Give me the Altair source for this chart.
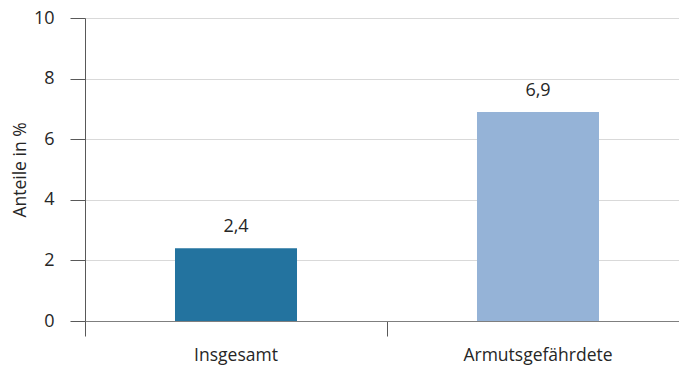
import altair as alt
import pandas as pd

# Anteile in % (Insgesamt vs. Armutsgefährdete)
categories = ["Insgesamt", "Armutsgefährdete"]
values = [2.4, 6.9]
colors = ["#23739f", "#95b3d7"]
y_ticks = [0, 2, 4, 6, 8, 10]

df = pd.DataFrame({
    "Gruppe": categories,
    "Anteil": values,
    "Label": [f"{v:.1f}".replace(".", ",") for v in values],
})

FONT = "Open Sans"
TEXT_COLOR = "#262626"

x_enc = alt.X(
    "Gruppe:N",
    sort=categories,
    title=None,
    scale=alt.Scale(range=[0, 604], paddingInner=0, paddingOuter=0),
    axis=alt.Axis(
        bandPosition=0,
        labelAngle=0,
        tickSize=15,
        tickColor="#595959",
        domainColor="#7f7f7f",
        domainWidth=1,
        labelPadding=10,
        labelFontSize=17.5,
        labelFont=FONT,
        labelColor=TEXT_COLOR,
        grid=False,
    ),
)

y_enc = alt.Y(
    "Anteil:Q",
    title="Anteile in %",
    scale=alt.Scale(domain=[0, 10], nice=False),
    axis=alt.Axis(
        values=y_ticks,
        tickSize=15,
        tickColor="#595959",
        domainColor="#595959",
        labelPadding=16,
        labelFontSize=18,
        labelFont=FONT,
        labelColor=TEXT_COLOR,
        titleFont=FONT,
        titleFontSize=17.5,
        titleFontWeight="normal",
        titleColor=TEXT_COLOR,
        titlePadding=4,
        gridColor="#d9d9d9",
        gridWidth=1,
    ),
)

bars = alt.Chart(df).mark_bar(width=alt.RelativeBandSize(0.404)).encode(
    x=x_enc,
    y=y_enc,
    color=alt.Color("Gruppe:N", scale=alt.Scale(domain=categories, range=colors), legend=None),
)

labels = alt.Chart(df).mark_text(
    baseline="bottom", dy=-12, fontSize=18, font=FONT, color=TEXT_COLOR
).encode(
    x=alt.X("Gruppe:N", sort=categories),
    y="Anteil:Q",
    text="Label:N",
)

chart = (
    alt.layer(bars, labels)
    .properties(
        width=594,
        height=303,
        autosize=alt.AutoSizeParams(type="none"),
        padding={"left": 85, "top": 18, "right": 0, "bottom": 49},
    )
    .configure_view(stroke=None)
    .configure(background="white")
)

chart.save("out.html", embed_options={"renderer": "svg", "actions": False})
